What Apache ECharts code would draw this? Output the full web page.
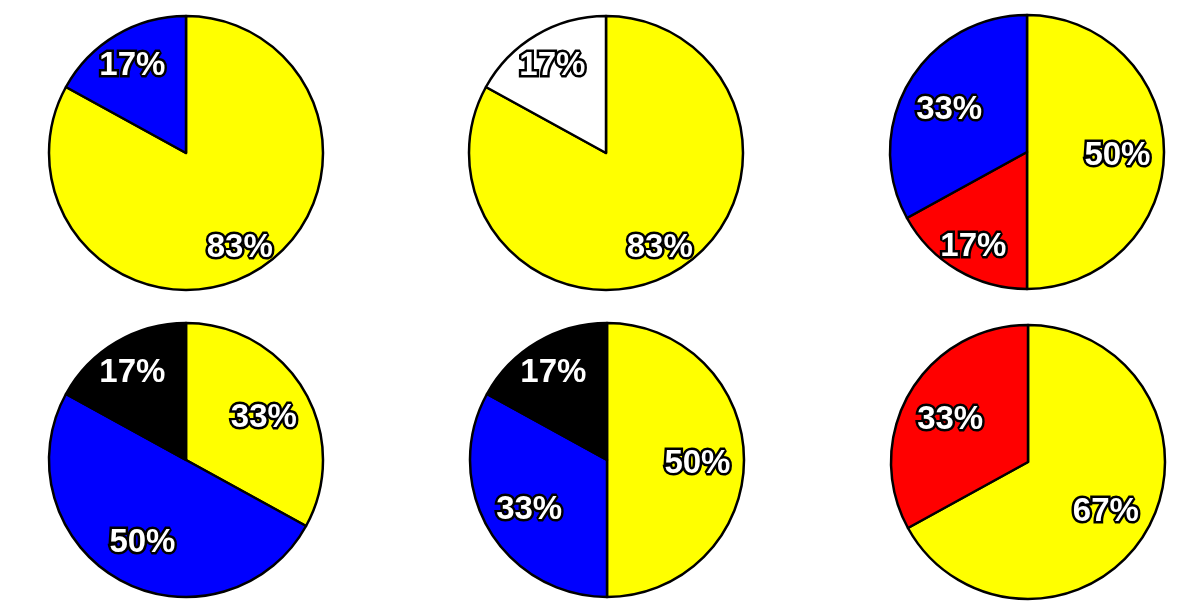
<!DOCTYPE html>
<html>
<head>
<meta charset="utf-8">
<script src="https://cdn.jsdelivr.net/npm/echarts@6/dist/echarts.min.js"></script>
<style>html,body{margin:0;padding:0;background:#fff;}#c{width:1200px;height:615px;}</style>
</head>
<body>
<div id="c"></div>
<script>
// Data: each pie's slice values (percent) and colours, clockwise from 12 o'clock
const pie1Values = [83, 17];
const pie1Colors = ['#ffff00', '#0000ff'];
const pie2Values = [83, 17];
const pie2Colors = ['#ffff00', '#ffffff'];
const pie3Values = [50, 17, 33];
const pie3Colors = ['#ffff00', '#ff0000', '#0000ff'];
const pie4Values = [33, 50, 17];
const pie4Colors = ['#ffff00', '#0000ff', '#000000'];
const pie5Values = [50, 33, 17];
const pie5Colors = ['#ffff00', '#0000ff', '#000000'];
const pie6Values = [67, 33];
const pie6Colors = ['#ffff00', '#ff0000'];

// Layout (pixel centers)
const centers = [[186, 153], [606, 153], [1027, 152], [186, 460], [607, 460], [1028, 462]];
const R = 137;

const pies = [
  [pie1Values, pie1Colors], [pie2Values, pie2Colors], [pie3Values, pie3Colors],
  [pie4Values, pie4Colors], [pie5Values, pie5Colors], [pie6Values, pie6Colors]
];

function labelPos(si, di) {
  const vals = pies[si][0];
  const total = vals.reduce((a, b) => a + b, 0);
  let before = 0;
  for (let i = 0; i < di; i++) before += vals[i];
  const share = vals[di] / total;
  const mid = (before + vals[di] / 2) / total * Math.PI * 2;
  const rl = (share < 0.2 || share > 0.8) ? 0.77 * R : 0.66 * R;
  const c = centers[si];
  return [c[0] + rl * Math.sin(mid), c[1] - rl * Math.cos(mid) + 4];
}

const chart = echarts.init(document.getElementById('c'));
chart.setOption({
  backgroundColor: '#ffffff',
  animation: false,
  series: pies.map((p, si) => ({
    type: 'pie',
    center: centers[si],
    radius: [0, R],
    startAngle: 90,
    clockwise: true,
    silent: true,
    itemStyle: { borderColor: '#000', borderWidth: 2.5 },
    label: {
      show: true,
      position: 'inside',
      formatter: (d) => d.value + '%',
      color: '#ffffff',
      fontFamily: 'Liberation Sans, Arial, sans-serif',
      fontWeight: 'bold',
      fontSize: 33,
      textBorderColor: '#000000',
      textBorderWidth: 5
    },
    labelLine: { show: false },
    labelLayout: (params) => {
      const pt = labelPos(params.seriesIndex, params.dataIndex);
      return { x: pt[0], y: pt[1], align: 'center', verticalAlign: 'middle' };
    },
    data: p[0].map((v, i) => ({ value: v, itemStyle: { color: p[1][i] } }))
  }))
});
</script>
</body>
</html>
